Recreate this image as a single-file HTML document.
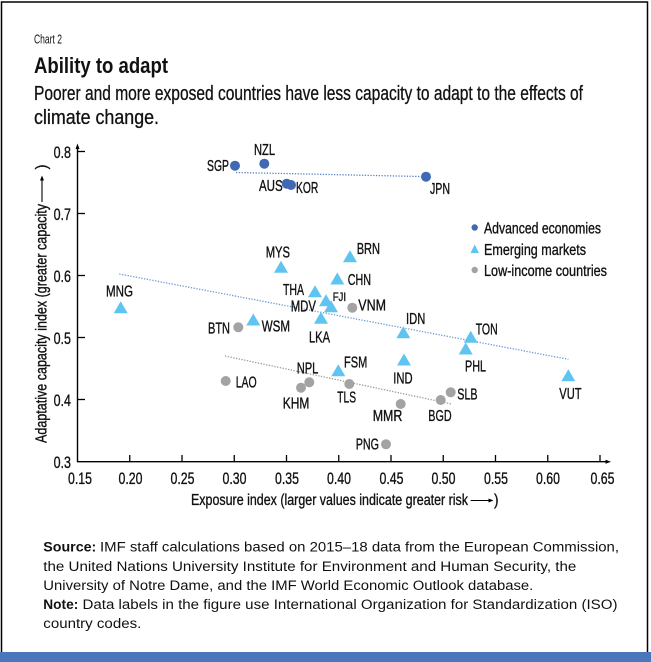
<!DOCTYPE html>
<html>
<head>
<meta charset="utf-8">
<style>
  html,body{margin:0;padding:0;background:#fff;}
  svg{display:block;}
  text{font-family:"Liberation Sans",Arial,sans-serif;fill:#111;}
  .lb{font-size:16px;stroke:#111;stroke-width:0.35px;}
  .tk{font-size:17px;stroke:#111;stroke-width:0.35px;}
  .ft{font-size:13.5px;}
  .sub{font-size:20px;stroke:#111;stroke-width:0.3px;}
</style>
</head>
<body>
<svg width="651" height="662" viewBox="0 0 651 662" xmlns="http://www.w3.org/2000/svg">
  <rect x="0" y="0" width="651" height="662" fill="#fff"/>
  <!-- frame -->
  <rect x="1.5" y="2" width="646" height="655" fill="none" stroke="#000" stroke-width="1.5"/>
  <rect x="0" y="652" width="651" height="10" fill="#4a77bb"/>

  <!-- header -->
  <text x="34" y="43.5" style="font-size:13px" textLength="28" lengthAdjust="spacingAndGlyphs">Chart 2</text>
  <text x="34" y="73" style="font-size:22px;font-weight:bold" textLength="134" lengthAdjust="spacingAndGlyphs">Ability to adapt</text>
  <text class="sub" x="34" y="100" textLength="549" lengthAdjust="spacingAndGlyphs">Poorer and more exposed countries have less capacity to adapt to the effects of</text>
  <text class="sub" x="34" y="124" textLength="125" lengthAdjust="spacingAndGlyphs">climate change.</text>

  <!-- trend lines -->
  <line x1="236" y1="172.5" x2="421" y2="176.5" stroke="#5b82c4" stroke-width="1.3" stroke-dasharray="1.3 1.5"/>
  <line x1="119.3" y1="274" x2="568.3" y2="359.3" stroke="#6b9bd3" stroke-width="1.3" stroke-dasharray="1.3 1.5"/>
  <line x1="225" y1="356" x2="451.7" y2="404" stroke="#999" stroke-width="1.3" stroke-dasharray="1.3 1.5"/>

  <!-- axes -->
  <line x1="77.5" y1="462" x2="77.5" y2="147" stroke="#000" stroke-width="1.4"/>
  <polygon points="77.5,143.5 75.5,149 79.5,149" fill="#000"/>
  <line x1="77" y1="461.7" x2="607" y2="461.7" stroke="#000" stroke-width="1.4"/>
  <polygon points="611,461.7 605.5,459.7 605.5,463.7" fill="#000"/>

  <!-- y ticks -->
  <g stroke="#000" stroke-width="1.3">
    <line x1="77.5" y1="151.5" x2="85" y2="151.5"/>
    <line x1="77.5" y1="213.5" x2="85" y2="213.5"/>
    <line x1="77.5" y1="275.5" x2="85" y2="275.5"/>
    <line x1="77.5" y1="337.5" x2="85" y2="337.5"/>
    <line x1="77.5" y1="399.5" x2="85" y2="399.5"/>
  </g>
  <g class="tk" text-anchor="end">
    <text x="71" y="158" textLength="17.4" lengthAdjust="spacingAndGlyphs">0.8</text>
    <text x="71" y="220" textLength="17.4" lengthAdjust="spacingAndGlyphs">0.7</text>
    <text x="71" y="282" textLength="17.4" lengthAdjust="spacingAndGlyphs">0.6</text>
    <text x="71" y="344" textLength="17.4" lengthAdjust="spacingAndGlyphs">0.5</text>
    <text x="71" y="406" textLength="17.4" lengthAdjust="spacingAndGlyphs">0.4</text>
    <text x="71" y="468" textLength="17.4" lengthAdjust="spacingAndGlyphs">0.3</text>
  </g>

  <!-- x ticks -->
  <g stroke="#000" stroke-width="1.3">
    <line x1="129.75" y1="461.7" x2="129.75" y2="455"/>
    <line x1="182" y1="461.7" x2="182" y2="455"/>
    <line x1="234.25" y1="461.7" x2="234.25" y2="455"/>
    <line x1="286.5" y1="461.7" x2="286.5" y2="455"/>
    <line x1="338.75" y1="461.7" x2="338.75" y2="455"/>
    <line x1="391" y1="461.7" x2="391" y2="455"/>
    <line x1="443.25" y1="461.7" x2="443.25" y2="455"/>
    <line x1="495.5" y1="461.7" x2="495.5" y2="455"/>
    <line x1="547.75" y1="461.7" x2="547.75" y2="455"/>
    <line x1="600" y1="461.7" x2="600" y2="455"/>
  </g>
  <g class="tk">
    <text x="68" y="484" textLength="24" lengthAdjust="spacingAndGlyphs">0.15</text>
    <text x="118.5" y="484" textLength="24" lengthAdjust="spacingAndGlyphs">0.20</text>
    <text x="170.5" y="484" textLength="24" lengthAdjust="spacingAndGlyphs">0.25</text>
    <text x="222.5" y="484" textLength="24" lengthAdjust="spacingAndGlyphs">0.30</text>
    <text x="275" y="484" textLength="24" lengthAdjust="spacingAndGlyphs">0.35</text>
    <text x="327" y="484" textLength="24" lengthAdjust="spacingAndGlyphs">0.40</text>
    <text x="379.5" y="484" textLength="24" lengthAdjust="spacingAndGlyphs">0.45</text>
    <text x="431.5" y="484" textLength="24" lengthAdjust="spacingAndGlyphs">0.50</text>
    <text x="484" y="484" textLength="24" lengthAdjust="spacingAndGlyphs">0.55</text>
    <text x="536" y="484" textLength="24" lengthAdjust="spacingAndGlyphs">0.60</text>
    <text x="590.5" y="484" textLength="24" lengthAdjust="spacingAndGlyphs">0.65</text>
  </g>

  <!-- x axis title -->
  <text class="lb" x="191" y="505" textLength="277" lengthAdjust="spacingAndGlyphs">Exposure index (larger values indicate greater risk</text>
  <line x1="470.7" y1="500.5" x2="490" y2="500.5" stroke="#000" stroke-width="1.1"/>
  <polygon points="493.5,500.5 488.5,498.5 488.5,502.5" fill="#000"/>
  <text class="lb" x="494" y="505" textLength="4.5" lengthAdjust="spacingAndGlyphs">)</text>

  <!-- y axis title -->
  <g transform="translate(46.5,0) rotate(-90)">
    <text class="lb" x="-443" y="0" textLength="239" lengthAdjust="spacingAndGlyphs">Adaptative capacity index (greater capacity</text>
    <text class="lb" x="-169.5" y="0" textLength="5" lengthAdjust="spacingAndGlyphs">)</text>
  </g>
  <line x1="42" y1="202" x2="42" y2="179" stroke="#000" stroke-width="1.1"/>
  <polygon points="42,175.5 40,180.5 44,180.5" fill="#000"/>

  <!-- legend -->
  <circle cx="474.7" cy="227.5" r="3.2" fill="#4168b5"/>
  <polygon points="474.7,244.5 470.5,253 478.9,253" fill="#60c4f0"/>
  <circle cx="474.7" cy="270" r="3.2" fill="#a3a3a3"/>
  <text class="lb" x="484" y="233.3" textLength="117" lengthAdjust="spacingAndGlyphs">Advanced economies</text>
  <text class="lb" x="484" y="255" textLength="102" lengthAdjust="spacingAndGlyphs">Emerging markets</text>
  <text class="lb" x="484" y="276" textLength="123" lengthAdjust="spacingAndGlyphs">Low-income countries</text>

  <!-- advanced economies -->
  <g fill="#4168b5">
    <circle cx="235" cy="165.7" r="5"/>
    <circle cx="264.3" cy="163.7" r="5"/>
    <circle cx="286.7" cy="183.7" r="5"/>
    <circle cx="291" cy="185" r="5"/>
    <circle cx="426" cy="176.7" r="5"/>
  </g>

  <!-- low-income -->
  <g fill="#a3a3a3">
    <circle cx="238.3" cy="327.3" r="5"/>
    <circle cx="225.7" cy="381" r="5"/>
    <circle cx="309.3" cy="382.3" r="5"/>
    <circle cx="301" cy="387.7" r="5"/>
    <circle cx="352.3" cy="307.7" r="5"/>
    <circle cx="349.3" cy="384" r="5"/>
    <circle cx="400.7" cy="404" r="5"/>
    <circle cx="440.7" cy="400" r="5"/>
    <circle cx="450.7" cy="392.3" r="5"/>
    <circle cx="386" cy="444.3" r="5"/>
  </g>

  <!-- emerging markets -->
  <g fill="#60c4f0">
    <polygon points="120.7,301.2 113.7,313.2 127.7,313.2"/>
    <polygon points="281,260.8 274,272.8 288,272.8"/>
    <polygon points="315,285.2 308,297.2 322,297.2"/>
    <polygon points="326,294.2 319,306.2 333,306.2"/>
    <polygon points="331,300.2 324,312.2 338,312.2"/>
    <polygon points="321,311.8 314,323.8 328,323.8"/>
    <polygon points="253.3,313.5 246.3,325.5 260.3,325.5"/>
    <polygon points="350,250.2 343,262.2 357,262.2"/>
    <polygon points="337.3,272.5 330.3,284.5 344.3,284.5"/>
    <polygon points="403.3,326.2 396.3,338.2 410.3,338.2"/>
    <polygon points="470.7,330.8 463.7,342.8 477.7,342.8"/>
    <polygon points="465.7,342.5 458.7,354.5 472.7,354.5"/>
    <polygon points="404,353.5 397,365.5 411,365.5"/>
    <polygon points="338.3,364.2 331.3,376.2 345.3,376.2"/>
    <polygon points="568.3,369.2 561.3,381.2 575.3,381.2"/>
  </g>

  <!-- data labels -->
  <g class="lb">
    <text x="207" y="171" textLength="22" lengthAdjust="spacingAndGlyphs">SGP</text>
    <text x="254" y="155" textLength="21" lengthAdjust="spacingAndGlyphs">NZL</text>
    <text x="259" y="191" textLength="23.7" lengthAdjust="spacingAndGlyphs">AUS</text>
    <text x="296" y="193" textLength="22.3" lengthAdjust="spacingAndGlyphs">KOR</text>
    <text x="430" y="194" textLength="20" lengthAdjust="spacingAndGlyphs">JPN</text>
    <text x="265.7" y="257.7" textLength="24.3" lengthAdjust="spacingAndGlyphs">MYS</text>
    <text x="106" y="296.7" textLength="27" lengthAdjust="spacingAndGlyphs">MNG</text>
    <text x="283" y="295" textLength="21" lengthAdjust="spacingAndGlyphs">THA</text>
    <text x="290.7" y="311.7" textLength="25.3" lengthAdjust="spacingAndGlyphs">MDV</text>
    <text x="208" y="333.3" textLength="22" lengthAdjust="spacingAndGlyphs">BTN</text>
    <text x="261.7" y="331.7" textLength="28.3" lengthAdjust="spacingAndGlyphs">WSM</text>
    <text x="309" y="342.7" textLength="21" lengthAdjust="spacingAndGlyphs">LKA</text>
    <text x="356.7" y="254" textLength="23.3" lengthAdjust="spacingAndGlyphs">BRN</text>
    <text x="347.7" y="285" textLength="23.3" lengthAdjust="spacingAndGlyphs">CHN</text>
    <text x="332.7" y="301" style="font-size:12px" textLength="13.3" lengthAdjust="spacingAndGlyphs">FJI</text>
    <text x="358.3" y="310.7" textLength="27.7" lengthAdjust="spacingAndGlyphs">VNM</text>
    <text x="406" y="324" textLength="19.3" lengthAdjust="spacingAndGlyphs">IDN</text>
    <text x="475.7" y="334.3" textLength="22" lengthAdjust="spacingAndGlyphs">TON</text>
    <text x="465" y="371.7" textLength="21" lengthAdjust="spacingAndGlyphs">PHL</text>
    <text x="393.3" y="383.3" textLength="19.3" lengthAdjust="spacingAndGlyphs">IND</text>
    <text x="344" y="367.3" textLength="23.3" lengthAdjust="spacingAndGlyphs">FSM</text>
    <text x="559.3" y="399" textLength="22.3" lengthAdjust="spacingAndGlyphs">VUT</text>
    <text x="337.3" y="402.7" textLength="18.7" lengthAdjust="spacingAndGlyphs">TLS</text>
    <text x="372.7" y="421" textLength="29.7" lengthAdjust="spacingAndGlyphs">MMR</text>
    <text x="428.3" y="421" textLength="23.3" lengthAdjust="spacingAndGlyphs">BGD</text>
    <text x="457.3" y="399.3" textLength="20.3" lengthAdjust="spacingAndGlyphs">SLB</text>
    <text x="355.7" y="449.3" textLength="23.3" lengthAdjust="spacingAndGlyphs">PNG</text>
    <text x="235.7" y="387.3" textLength="21" lengthAdjust="spacingAndGlyphs">LAO</text>
    <text x="296.7" y="373.3" textLength="21.7" lengthAdjust="spacingAndGlyphs">NPL</text>
    <text x="282.7" y="408.3" textLength="26.7" lengthAdjust="spacingAndGlyphs">KHM</text>
  </g>

  <!-- footer -->
  <g class="ft">
    <text x="43.3" y="551.7" style="font-weight:bold" textLength="53" lengthAdjust="spacingAndGlyphs">Source:</text>
    <text x="100" y="551.7" textLength="519" lengthAdjust="spacingAndGlyphs">IMF staff calculations based on 2015–18 data from the European Commission,</text>
    <text x="43.3" y="571" textLength="533" lengthAdjust="spacingAndGlyphs">the United Nations University Institute for Environment and Human Security, the</text>
    <text x="43.3" y="590" textLength="490" lengthAdjust="spacingAndGlyphs">University of Notre Dame, and the IMF World Economic Outlook database.</text>
    <text x="43.3" y="609" style="font-weight:bold" textLength="35" lengthAdjust="spacingAndGlyphs">Note:</text>
    <text x="82.5" y="609" textLength="535" lengthAdjust="spacingAndGlyphs">Data labels in the figure use International Organization for Standardization (ISO)</text>
    <text x="43.3" y="628" textLength="98" lengthAdjust="spacingAndGlyphs">country codes.</text>
  </g>
</svg>
</body>
</html>
